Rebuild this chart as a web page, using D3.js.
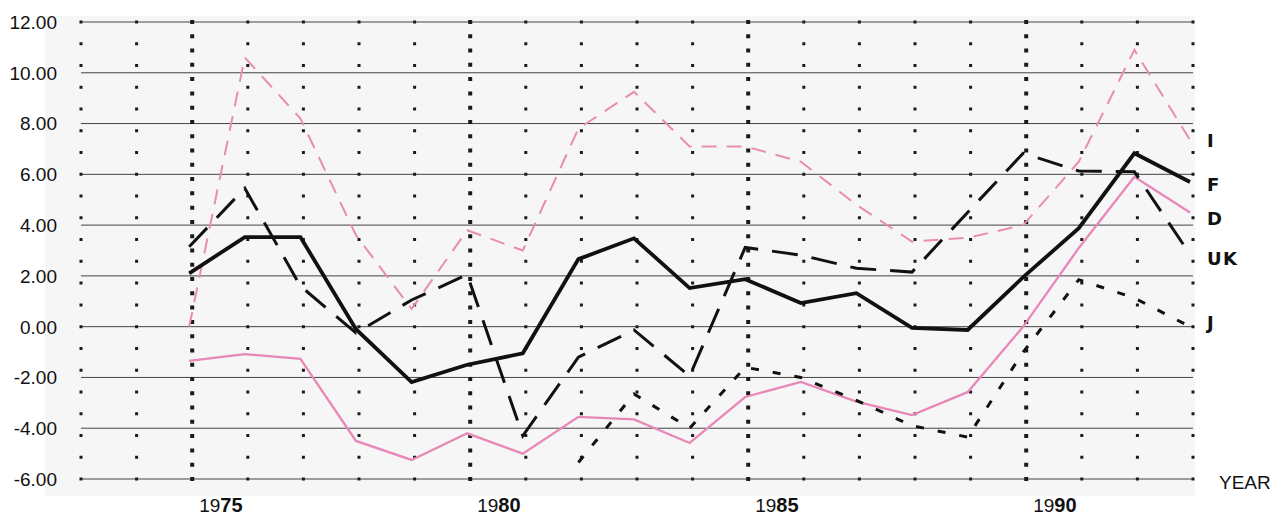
<!DOCTYPE html>
<html>
<head>
<meta charset="utf-8">
<script src="https://cdn.jsdelivr.net/npm/d3@7"></script>
<style>
  body { margin: 0; background: #fff; }
  svg { display: block; }
  .ylab { font-family: "Liberation Sans", Arial, sans-serif; font-size: 19px; fill: #111; }
  .xlab { font-family: "Liberation Sans", Arial, sans-serif; font-size: 19px; fill: #111; }
  .slab { font-family: "DejaVu Sans", sans-serif; font-size: 18px; font-weight: 900; fill: #111; letter-spacing: 1.5px; }
</style>
</head>
<body>
<script>
// years with data, and the years that get a dotted column
const years = [1975,1976,1977,1978,1979,1980,1981,1982,1983,1984,1985,1986,1987,1988,1989,1990,1991,1992,1993];
const gridYears = [1973,1974,1975,1976,1977,1978,1979,1980,1981,1982,1983,1984,1985,1986,1987,1988,1989,1990,1991,1992,1993];
const majorYears = [1975,1980,1985,1990];
const yTicks = [12,10,8,6,4,2,0,-2,-4,-6];

// series values
const valuesI  = [0.0,10.6,8.2,3.6,0.7,3.8,3.0,7.8,9.25,7.1,7.1,6.5,4.8,3.35,3.5,4.0,6.5,10.9,7.35];
const valuesF  = [2.1,3.53,3.53,-0.1,-2.18,-1.5,-1.05,2.66,3.48,1.52,1.87,0.93,1.32,-0.05,-0.13,1.95,3.88,6.83,5.7];
const valuesD  = [-1.35,-1.08,-1.27,-4.5,-5.25,-4.2,-5.0,-3.55,-3.65,-4.58,-2.77,-2.18,-2.95,-3.48,-2.58,0.0,3.1,5.9,4.5];
const valuesUK = [3.15,5.45,1.6,-0.25,1.05,2.05,-4.3,-1.2,-0.13,-1.95,3.12,2.82,2.3,2.15,4.5,6.83,6.13,6.1,2.85];
const valuesJ  = [null,null,null,null,null,null,null,-5.35,-2.65,-4.0,-1.6,-2.0,-2.9,-3.9,-4.35,-1.0,1.85,1.13,0.0];

const seriesNames = ["I","F","D","UK","J"];
const seriesValues = [valuesI, valuesF, valuesD, valuesUK, valuesJ];

const style = {
  I:  {color: "#e98cb0", width: 2,   dash: "15,10", nudge: 0},
  F:  {color: "#111",    width: 3.8, dash: null,    nudge: 3},
  D:  {color: "#e887b8", width: 2.3, dash: null,    nudge: 6},
  UK: {color: "#111",    width: 3,   dash: "26,14", nudge: 4},
  J:  {color: "#111",    width: 3,   dash: "8,14",  nudge: -4}
};

const width = 1270, height = 516;
const colShift = 3;

const svg = d3.select("body").append("svg")
  .attr("width", width)
  .attr("height", height);

const x = d3.scaleLinear().domain([1973, 1993]).range([78, 1190]);
const y = d3.scaleLinear().domain([-6, 12]).range([479, 22]);

// light scanned-paper background
svg.append("rect")
  .attr("x", 45).attr("y", 16)
  .attr("width", x(1993) + 5 - 45).attr("height", 480)
  .attr("fill", "#f6f6f6");

// horizontal grid
svg.selectAll(".hgrid")
  .data(yTicks)
  .enter().append("line")
  .attr("class", "hgrid")
  .attr("x1", x(1973) + colShift).attr("x2", x(1993) + colShift)
  .attr("y1", d => y(d)).attr("y2", d => y(d))
  .attr("stroke", "#444").attr("stroke-width", 1);

// dotted columns
svg.selectAll(".vgrid")
  .data(gridYears)
  .enter().append("line")
  .attr("class", "vgrid")
  .attr("x1", d => x(d) + colShift).attr("x2", d => x(d) + colShift)
  .attr("y1", d => y(12) - (majorYears.includes(d) ? 2 : 1.5))
  .attr("y2", y(-6) + 3)
  .attr("stroke", "#1a1a1a")
  .attr("stroke-width", d => majorYears.includes(d) ? 4 : 3)
  .attr("stroke-dasharray", d => majorYears.includes(d) ? "4,10.28" : "3,18.76");

// y labels
svg.selectAll(".ylab")
  .data(yTicks)
  .enter().append("text")
  .attr("class", "ylab")
  .attr("x", 57)
  .attr("y", d => y(d))
  .attr("dy", "0.36em")
  .attr("text-anchor", "end")
  .text(d => d3.format(".2f")(d).replace("\u2212", "-"));

// x labels: "19" plain, last two digits heavy
const xl = svg.selectAll(".xlab")
  .data(majorYears)
  .enter().append("text")
  .attr("class", "xlab")
  .attr("x", d => x(d) + colShift + 7)
  .attr("y", 512);
xl.append("tspan").text(d => String(d).slice(0, 2));
xl.append("tspan").attr("font-weight", 900).attr("font-size", "20px")
  .text(d => String(d).slice(2));

svg.append("text")
  .attr("class", "xlab")
  .attr("x", 1219).attr("y", 489)
  .attr("font-size", "17px")
  .text("YEAR");

// series lines
const line = d3.line()
  .defined(d => d.v != null)
  .x(d => x(d.year))
  .y(d => y(d.v));

const order = ["D", "I", "J", "UK", "F"];
order.forEach(name => {
  const vals = seriesValues[seriesNames.indexOf(name)];
  const pts = years.map((yr, i) => ({year: yr, v: vals[i]}));
  const s = style[name];
  svg.append("path")
    .datum(pts)
    .attr("fill", "none")
    .attr("stroke", s.color)
    .attr("stroke-width", s.width)
    .attr("stroke-linejoin", "miter")
    .attr("stroke-dasharray", s.dash)
    .attr("d", line);
});

// end labels
svg.selectAll(".slab")
  .data(seriesNames)
  .enter().append("text")
  .attr("class", "slab")
  .attr("x", 1207)
  .attr("y", (d, i) => y(seriesValues[i][seriesValues[i].length - 1]) + style[d].nudge)
  .attr("dy", "0.36em")
  .text(d => d);
</script>
</body>
</html>
